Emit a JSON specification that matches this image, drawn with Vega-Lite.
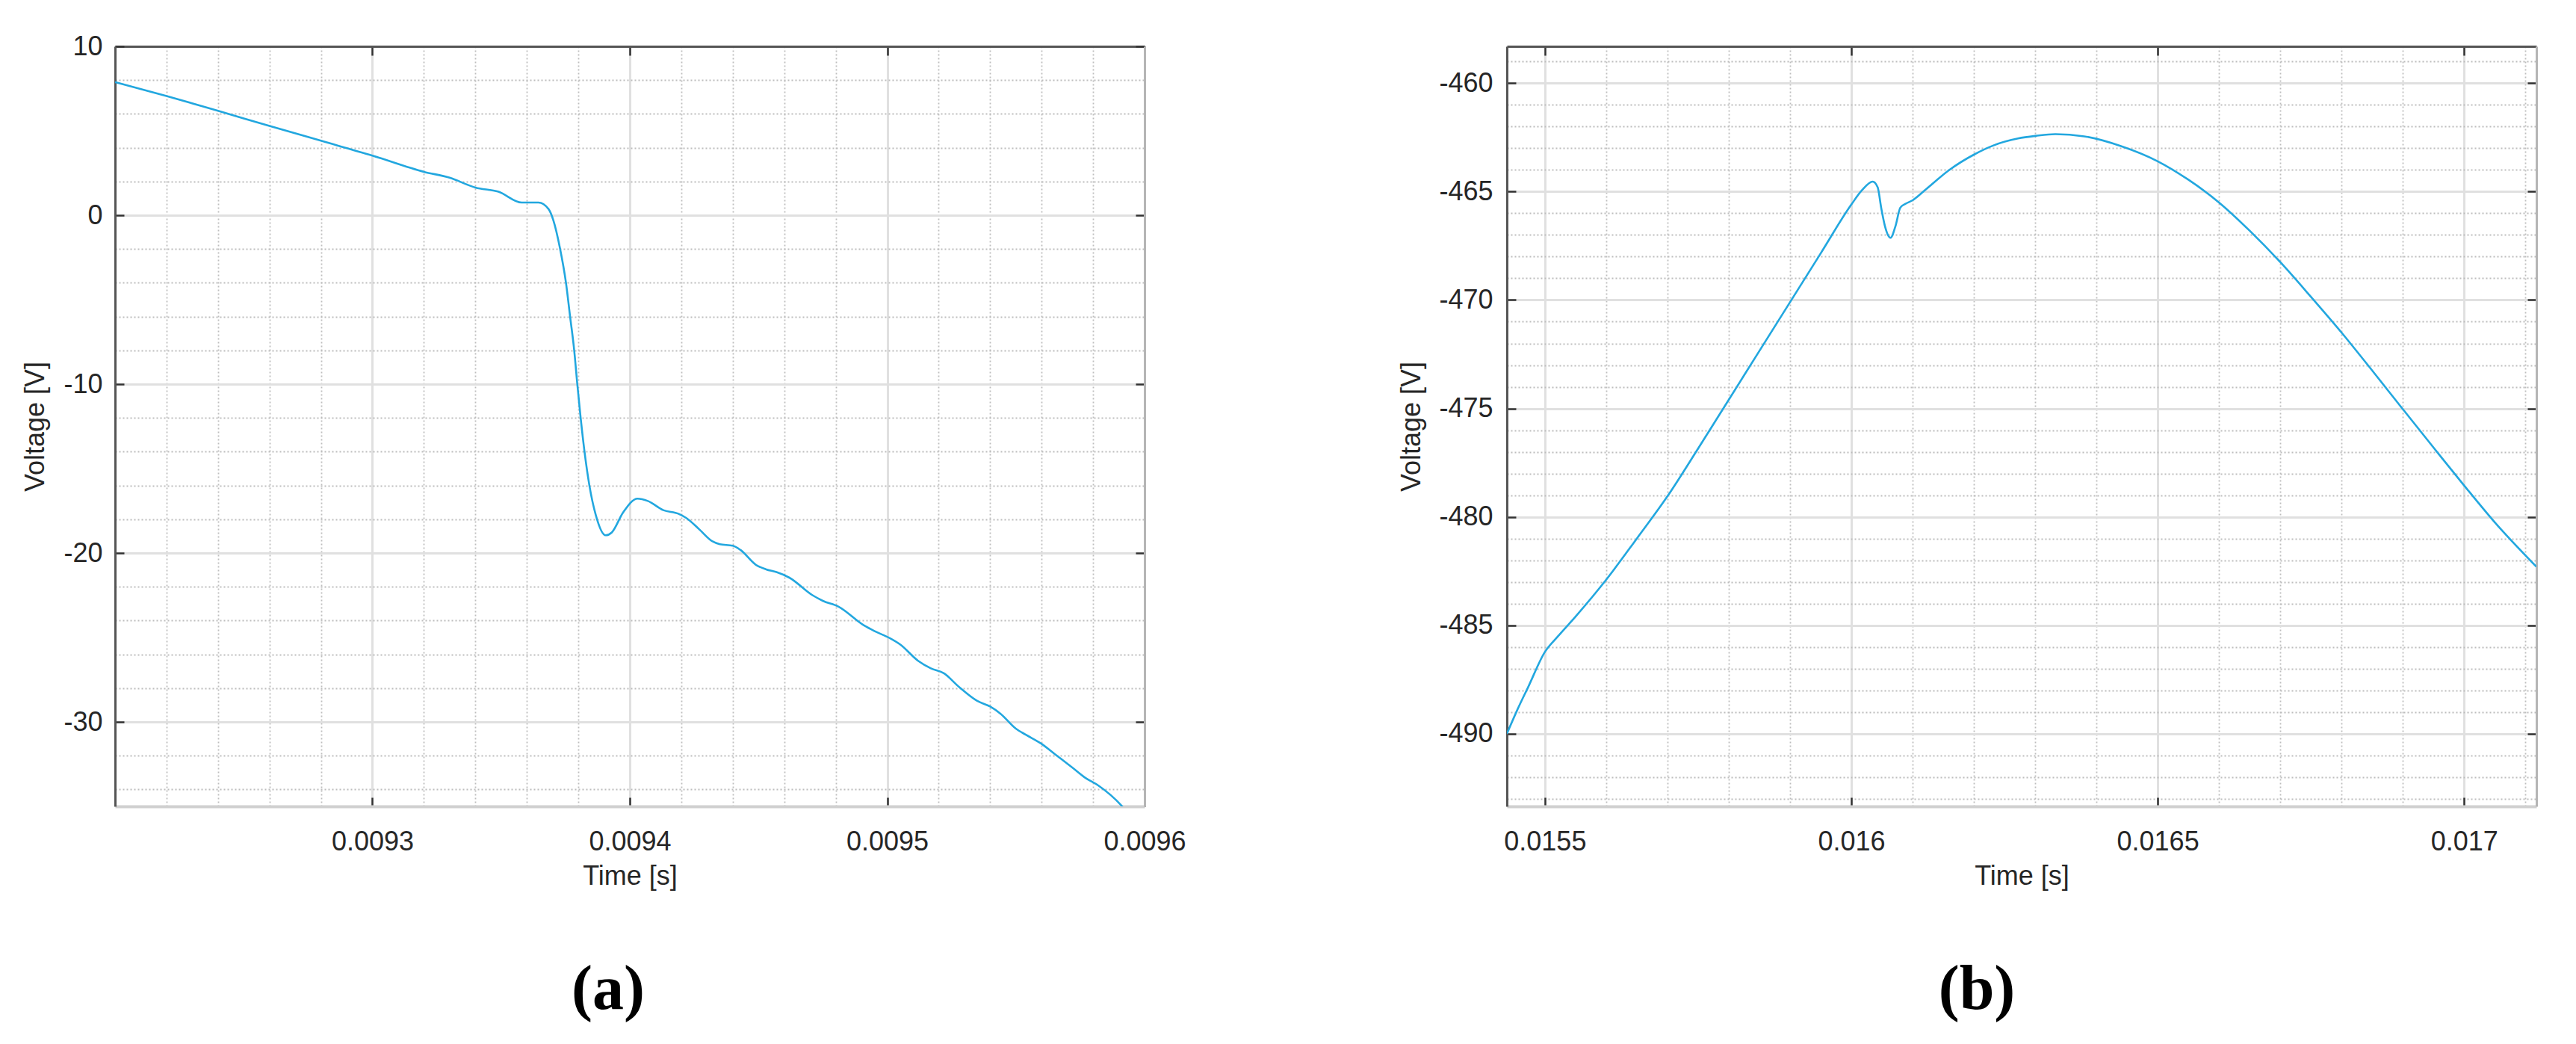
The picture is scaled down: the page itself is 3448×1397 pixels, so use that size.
{
  "$schema": "https://vega.github.io/schema/vega-lite/v6.json",
  "background": "white",
  "padding": {"left": 29, "top": 44, "right": 10, "bottom": 10},
  "bounds": "flush",
  "spacing": 485,
  "config": {
    "view": {"stroke": null},
    "axis": {
      "labelFont": "Liberation Sans", "labelFontSize": 36, "labelColor": "#262626",
      "titleFont": "Liberation Sans", "titleFontSize": 36, "titleFontWeight": "normal", "titleColor": "#262626",
      "labelFlush": false, "labelOverlap": false, "tickColor": "#333333", "tickWidth": 2.5
    }
  },
  "datasets": {
    "a": [
      {"t": 0.0092, "v": 7.88}, {"t": 0.00922, "v": 7.06}, {"t": 0.00924, "v": 6.18}, {"t": 0.00926, "v": 5.29},
      {"t": 0.00928, "v": 4.41}, {"t": 0.0093, "v": 3.53}, {"t": 0.00932, "v": 2.57}, {"t": 0.00933, "v": 2.22},
      {"t": 0.00934, "v": 1.64}, {"t": 0.009349, "v": 1.39}, {"t": 0.009358, "v": 0.75}, {"t": 0.0093645, "v": 0.75},
      {"t": 0.0093684, "v": 0.37}, {"t": 0.0093703, "v": -0.3}, {"t": 0.0093728, "v": -1.9}, {"t": 0.0093752, "v": -4.0},
      {"t": 0.0093768, "v": -6.0}, {"t": 0.0093784, "v": -8.0}, {"t": 0.0093796, "v": -10.0}, {"t": 0.0093809, "v": -12.0},
      {"t": 0.0093824, "v": -14.0}, {"t": 0.0093843, "v": -16.0}, {"t": 0.0093868, "v": -17.76}, {"t": 0.0093906, "v": -18.95},
      {"t": 0.009393, "v": -18.78}, {"t": 0.0093974, "v": -17.6}, {"t": 0.009403, "v": -16.78}, {"t": 0.009407, "v": -16.92},
      {"t": 0.009413, "v": -17.46}, {"t": 0.009419, "v": -17.68}, {"t": 0.009422, "v": -17.93}, {"t": 0.009427, "v": -18.6},
      {"t": 0.009432, "v": -19.3}, {"t": 0.009435, "v": -19.48}, {"t": 0.00944, "v": -19.57}, {"t": 0.009443, "v": -19.82},
      {"t": 0.009449, "v": -20.7}, {"t": 0.009453, "v": -20.97}, {"t": 0.009457, "v": -21.13}, {"t": 0.009462, "v": -21.46},
      {"t": 0.009471, "v": -22.5}, {"t": 0.009475, "v": -22.83}, {"t": 0.009481, "v": -23.17}, {"t": 0.009491, "v": -24.29},
      {"t": 0.009495, "v": -24.62}, {"t": 0.009501, "v": -25.04}, {"t": 0.009505, "v": -25.41}, {"t": 0.009512, "v": -26.38},
      {"t": 0.009517, "v": -26.83}, {"t": 0.009522, "v": -27.12}, {"t": 0.009528, "v": -27.94}, {"t": 0.009535, "v": -28.76},
      {"t": 0.00954, "v": -29.09}, {"t": 0.009544, "v": -29.51}, {"t": 0.00955, "v": -30.4}, {"t": 0.009554, "v": -30.77},
      {"t": 0.00956, "v": -31.3}, {"t": 0.009565, "v": -31.89}, {"t": 0.009572, "v": -32.71}, {"t": 0.009577, "v": -33.31},
      {"t": 0.009582, "v": -33.76}, {"t": 0.009591, "v": -34.95}, {"t": 0.009593, "v": -35.3}
    ],
    "b": [
      {"t": 0.015438, "v": -490.0}, {"t": 0.015455, "v": -488.9}, {"t": 0.015473, "v": -487.83}, {"t": 0.0155, "v": -486.23},
      {"t": 0.01552, "v": -485.55}, {"t": 0.01555, "v": -484.6}, {"t": 0.0156, "v": -482.9}, {"t": 0.01565, "v": -481.0},
      {"t": 0.0157, "v": -479.05}, {"t": 0.01575, "v": -476.85}, {"t": 0.0158, "v": -474.6}, {"t": 0.01585, "v": -472.35},
      {"t": 0.0159, "v": -470.1}, {"t": 0.01595, "v": -467.85}, {"t": 0.016, "v": -465.6}, {"t": 0.016017, "v": -464.95},
      {"t": 0.016035, "v": -464.54}, {"t": 0.016043, "v": -464.8}, {"t": 0.016049, "v": -465.78}, {"t": 0.016055, "v": -466.6},
      {"t": 0.016064, "v": -467.13}, {"t": 0.016072, "v": -466.6}, {"t": 0.01608, "v": -465.74}, {"t": 0.016088, "v": -465.57},
      {"t": 0.0161, "v": -465.4}, {"t": 0.016122, "v": -464.89}, {"t": 0.016159, "v": -464.02}, {"t": 0.016201, "v": -463.28},
      {"t": 0.016232, "v": -462.87}, {"t": 0.016272, "v": -462.55}, {"t": 0.016301, "v": -462.43}, {"t": 0.016333, "v": -462.35},
      {"t": 0.01638, "v": -462.45}, {"t": 0.01644, "v": -462.9}, {"t": 0.0165, "v": -463.6}, {"t": 0.01655, "v": -464.45},
      {"t": 0.0166, "v": -465.5}, {"t": 0.01665, "v": -466.8}, {"t": 0.0167, "v": -468.25}, {"t": 0.01675, "v": -469.85},
      {"t": 0.0168, "v": -471.5}, {"t": 0.01685, "v": -473.25}, {"t": 0.0169, "v": -475.03}, {"t": 0.01695, "v": -476.8},
      {"t": 0.017, "v": -478.55}, {"t": 0.01705, "v": -480.25}, {"t": 0.017118, "v": -482.3}
    ]
  },
  "hconcat": [
    {
      "width": 1378, "height": 1017,
      "data": {"name": "a"},
      "title": {"text": "(a)", "orient": "bottom", "frame": "group", "offset": 160, "baseline": "alphabetic", "font": "Liberation Serif", "fontSize": 84, "fontWeight": "bold", "color": "#000000", "dx": -29},
      "resolve": {"axis": {"x": "independent", "y": "independent"}},
      "layer": [
        {
          "mark": {"type": "line", "color": "#22A7DF", "strokeWidth": 2.6, "interpolate": "monotone", "clip": true},
          "encoding": {
            "x": {"field": "t", "type": "quantitative",
              "scale": {"domain": [0.0092, 0.0096], "nice": false, "zero": false},
              "axis": {"orient": "bottom",
                "values": [0.00922, 0.00924, 0.00926, 0.00928, 0.0093, 0.00932, 0.00934, 0.00936, 0.00938, 0.0094, 0.00942, 0.00944, 0.00946, 0.00948, 0.0095, 0.00952, 0.00954, 0.00956, 0.00958, 0.0096],
                "labelExpr": "abs(datum.value*10000 - round(datum.value*10000)) < 0.001 ? format(datum.value, '.4~f') : ''",
                "grid": true,
                "gridDash": {"condition": {"test": "abs(datum.value*10000 - round(datum.value*10000)) < 0.001", "value": [1, 0]}, "value": [2, 3]},
                "gridColor": {"condition": {"test": "abs(datum.value*10000 - round(datum.value*10000)) < 0.001", "value": "#e0e0e0"}, "value": "#bdbdbd"},
                "gridWidth": {"condition": {"test": "abs(datum.value*10000 - round(datum.value*10000)) < 0.001", "value": 3}, "value": 1.8},
                "tickOpacity": {"condition": {"test": "abs(datum.value*10000 - round(datum.value*10000)) < 0.001", "value": 1}, "value": 0},
                "ticks": true, "tickSize": -12,
                "labelPadding": 70, "labelBaseline": "alphabetic",
                "domainColor": "#d0d0d0", "domainWidth": 4,
                "title": "Time [s]", "titleY": 104, "titleBaseline": "alphabetic"}},
            "y": {"field": "v", "type": "quantitative",
              "scale": {"domain": [-35, 10], "nice": false, "zero": false},
              "axis": {"orient": "left",
                "values": [-34, -32, -30, -28, -26, -24, -22, -20, -18, -16, -14, -12, -10, -8, -6, -4, -2, 0, 2, 4, 6, 8, 10],
                "labelExpr": "datum.value % 10 == 0 ? (datum.value < 0 ? '-' + format(-datum.value, 'd') : format(datum.value, 'd')) : ''",
                "grid": true,
                "gridDash": {"condition": {"test": "datum.value % 10 == 0", "value": [1, 0]}, "value": [2, 3]},
                "gridColor": {"condition": {"test": "datum.value % 10 == 0", "value": "#e0e0e0"}, "value": "#bdbdbd"},
                "gridWidth": {"condition": {"test": "datum.value % 10 == 0", "value": 3}, "value": 1.8},
                "tickOpacity": {"condition": {"test": "datum.value % 10 == 0", "value": 1}, "value": 0},
                "ticks": true, "tickSize": -12,
                "labelPadding": 29,
                "domainColor": "#555555", "domainWidth": 3,
                "title": "Voltage [V]", "titleX": -96, "titleY": 508.5, "titleAngle": 270, "titleAlign": "center", "titleBaseline": "alphabetic"}}
          }
        },
        {
          "mark": {"type": "line", "opacity": 0},
          "encoding": {
            "x": {"field": "t", "type": "quantitative",
              "scale": {"domain": [0.0092, 0.0096], "nice": false, "zero": false},
              "axis": {"orient": "top", "values": [0.0093, 0.0094, 0.0095, 0.0096], "labels": false, "grid": false, "ticks": true, "tickSize": -12, "domainColor": "#555555", "domainWidth": 3, "title": null}},
            "y": {"field": "v", "type": "quantitative",
              "scale": {"domain": [-35, 10], "nice": false, "zero": false},
              "axis": {"orient": "right", "values": [-30, -20, -10, 0, 10], "labels": false, "grid": false, "ticks": true, "tickSize": -12, "domainColor": "#b5b5b5", "domainWidth": 3, "title": null}}
          }
        }
      ]
    },
    {
      "width": 1378, "height": 1017,
      "data": {"name": "b"},
      "title": {"text": "(b)", "orient": "bottom", "frame": "group", "offset": 160, "baseline": "alphabetic", "font": "Liberation Serif", "fontSize": 84, "fontWeight": "bold", "color": "#000000", "dx": -60},
      "resolve": {"axis": {"x": "independent", "y": "independent"}},
      "layer": [
        {
          "mark": {"type": "line", "color": "#22A7DF", "strokeWidth": 2.6, "interpolate": "monotone", "clip": true},
          "encoding": {
            "x": {"field": "t", "type": "quantitative",
              "scale": {"domain": [0.015438, 0.017118], "nice": false, "zero": false},
              "axis": {"orient": "bottom",
                "values": [0.0155, 0.0156, 0.0157, 0.0158, 0.0159, 0.016, 0.0161, 0.0162, 0.0163, 0.0164, 0.0165, 0.0166, 0.0167, 0.0168, 0.0169, 0.017, 0.0171],
                "labelExpr": "abs(datum.value*2000 - round(datum.value*2000)) < 0.001 ? format(datum.value, '.4~f') : ''",
                "grid": true,
                "gridDash": {"condition": {"test": "abs(datum.value*2000 - round(datum.value*2000)) < 0.001", "value": [1, 0]}, "value": [2, 3]},
                "gridColor": {"condition": {"test": "abs(datum.value*2000 - round(datum.value*2000)) < 0.001", "value": "#e0e0e0"}, "value": "#bdbdbd"},
                "gridWidth": {"condition": {"test": "abs(datum.value*2000 - round(datum.value*2000)) < 0.001", "value": 3}, "value": 1.8},
                "tickOpacity": {"condition": {"test": "abs(datum.value*2000 - round(datum.value*2000)) < 0.001", "value": 1}, "value": 0},
                "ticks": true, "tickSize": -12,
                "labelPadding": 70, "labelBaseline": "alphabetic",
                "domainColor": "#d0d0d0", "domainWidth": 4,
                "title": "Time [s]", "titleY": 104, "titleBaseline": "alphabetic"}},
            "y": {"field": "v", "type": "quantitative",
              "scale": {"domain": [-493.35, -458.3], "nice": false, "zero": false},
              "axis": {"orient": "left",
                "values": [-493, -492, -491, -490, -489, -488, -487, -486, -485, -484, -483, -482, -481, -480, -479, -478, -477, -476, -475, -474, -473, -472, -471, -470, -469, -468, -467, -466, -465, -464, -463, -462, -461, -460, -459],
                "labelExpr": "datum.value % 5 == 0 ? '-' + format(-datum.value, 'd') : ''",
                "grid": true,
                "gridDash": {"condition": {"test": "datum.value % 5 == 0", "value": [1, 0]}, "value": [2, 3]},
                "gridColor": {"condition": {"test": "datum.value % 5 == 0", "value": "#e0e0e0"}, "value": "#bdbdbd"},
                "gridWidth": {"condition": {"test": "datum.value % 5 == 0", "value": 3}, "value": 1.8},
                "tickOpacity": {"condition": {"test": "datum.value % 5 == 0", "value": 1}, "value": 0},
                "ticks": true, "tickSize": -12,
                "labelPadding": 31,
                "domainColor": "#555555", "domainWidth": 3,
                "title": "Voltage [V]", "titleX": -117, "titleY": 508.5, "titleAngle": 270, "titleAlign": "center", "titleBaseline": "alphabetic"}}
          }
        },
        {
          "mark": {"type": "line", "opacity": 0},
          "encoding": {
            "x": {"field": "t", "type": "quantitative",
              "scale": {"domain": [0.015438, 0.017118], "nice": false, "zero": false},
              "axis": {"orient": "top", "values": [0.0155, 0.016, 0.0165, 0.017], "labels": false, "grid": false, "ticks": true, "tickSize": -12, "domainColor": "#555555", "domainWidth": 3, "title": null}},
            "y": {"field": "v", "type": "quantitative",
              "scale": {"domain": [-493.35, -458.3], "nice": false, "zero": false},
              "axis": {"orient": "right", "values": [-490, -485, -480, -475, -470, -465, -460], "labels": false, "grid": false, "ticks": true, "tickSize": -12, "domainColor": "#b5b5b5", "domainWidth": 3, "title": null}}
          }
        }
      ]
    }
  ]
}
